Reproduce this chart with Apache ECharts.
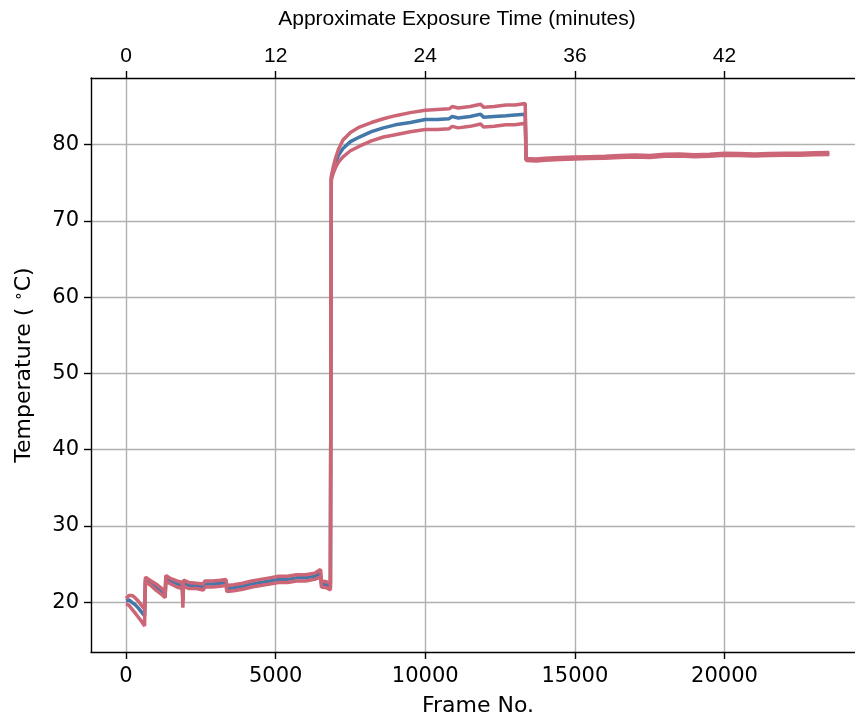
<!DOCTYPE html>
<html>
<head>
<meta charset="utf-8">
<script src="https://cdn.jsdelivr.net/npm/echarts@6/dist/echarts.min.js"></script>
<style>
  html, body { margin: 0; padding: 0; background: #ffffff; }
  #chart { width: 855px; height: 722px; }
</style>
</head>
<body>
<div id="chart"></div>
<script>
// Frame numbers shared by all three temperature traces
const frames = [
  0, 100, 200, 300, 400, 500, 620, 650, 800, 1000, 1200, 1310, 1330, 1500, 1700, 1880, 1900, 1920,
  2100, 2350, 2580, 2640, 2900, 3150, 3340, 3370, 3600, 3900, 4200, 4500, 4800, 5100, 5400, 5700,
  6000, 6300, 6500, 6530, 6700, 6830, 6860, 6920, 7000, 7100, 7250, 7500, 7800, 8200, 8600, 9000,
  9500, 10000, 10400, 10800, 10900, 11100, 11500, 11850, 11950, 12300, 12700, 13000, 13340, 13370,
  13700, 14000, 14500, 15000, 15500, 16000, 16500, 17000, 17500, 18000, 18500, 19000, 19500, 20000,
  20500, 21000, 21500, 22000, 22500, 23000, 23500
];

// Mean temperature (°C)
const meanTemp = [
  20.2, 20.3, 20.0, 19.7, 19.3, 18.8, 18.2, 23.0, 22.6, 22.0, 21.4, 21.0, 23.1, 22.8, 22.4, 22.2, 20.2, 22.5,
  22.2, 22.2, 22.0, 22.4, 22.4, 22.5, 22.6, 21.8, 21.9, 22.1, 22.4, 22.6, 22.8, 23.0, 23.0, 23.2,
  23.2, 23.4, 23.8, 22.4, 22.3, 22.0, 75.6, 76.6, 77.6, 78.6, 79.5, 80.4, 81.0, 81.7, 82.2, 82.6,
  82.9, 83.3, 83.3, 83.4, 83.7, 83.5, 83.7, 84.0, 83.6, 83.7, 83.8, 83.9, 84.0, 78.05,
  78.0, 78.1, 78.2, 78.25, 78.3, 78.35, 78.45, 78.5, 78.45, 78.6, 78.65, 78.55, 78.6, 78.75,
  78.7, 78.65, 78.7, 78.75, 78.75, 78.8, 78.85
];

// Upper bound of the temperature band (°C)
const upperTemp = [
  20.5, 20.9, 20.9, 20.6, 20.2, 19.7, 19.1, 23.3, 22.9, 22.4, 21.8, 21.4, 23.5, 23.1, 22.8, 22.6, 21.0, 22.9,
  22.6, 22.5, 22.4, 22.8, 22.8, 22.9, 23.0, 22.2, 22.3, 22.5, 22.8, 23.0, 23.2, 23.4, 23.4, 23.6,
  23.6, 23.8, 24.3, 22.8, 22.7, 22.4, 75.8, 77.0, 78.2, 79.4, 80.6, 81.6, 82.3, 82.9, 83.4, 83.8,
  84.2, 84.5, 84.6, 84.7, 85.0, 84.8, 85.0, 85.3, 84.9, 85.0, 85.2, 85.2, 85.4, 78.18,
  78.13, 78.23, 78.33, 78.38, 78.43, 78.48, 78.58, 78.63, 78.58, 78.73, 78.78, 78.68, 78.73, 78.88,
  78.83, 78.78, 78.83, 78.88, 78.88, 78.93, 78.98
];

// Lower bound of the temperature band (°C)
const lowerTemp = [
  19.8, 19.6, 19.1, 18.6, 18.1, 17.6, 16.9, 22.7, 22.3, 21.6, 21.0, 20.6, 22.8, 22.4, 22.0, 21.8, 19.3, 22.1,
  21.8, 21.8, 21.6, 22.0, 22.0, 22.1, 22.2, 21.4, 21.5, 21.7, 22.0, 22.2, 22.4, 22.6, 22.6, 22.8,
  22.8, 23.0, 23.3, 22.0, 21.9, 21.6, 75.4, 76.2, 77.0, 77.7, 78.4, 79.2, 79.8, 80.5, 81.0, 81.3,
  81.7, 82.0, 82.0, 82.1, 82.4, 82.2, 82.4, 82.7, 82.3, 82.4, 82.6, 82.6, 82.8, 77.92,
  77.87, 77.97, 78.07, 78.12, 78.17, 78.22, 78.32, 78.37, 78.32, 78.47, 78.52, 78.42, 78.47, 78.62,
  78.57, 78.52, 78.57, 78.62, 78.62, 78.67, 78.72
];

// Axis ticks
const frameTicks = [0, 5000, 10000, 15000, 20000];
const minuteTickLabels = ['0', '12', '24', '36', '42'];
const tempTicks = [20, 30, 40, 50, 60, 70, 80];

const pair = (ys) => frames.map((f, i) => [f, ys[i]]);

const dejavu = 'DejaVu Sans';
const arial = 'Liberation Sans';
const axisBlack = { color: '#000000', width: 1.4 };
const gridStyle = { color: '#b0b0b0', width: 1.4 };
const frameMin = -1170;
const frameMax = 24360;

const chart = echarts.init(document.getElementById('chart'), null, { renderer: 'canvas' });

chart.setOption({
  animation: false,
  backgroundColor: '#ffffff',
  grid: { left: 91, right: 0, top: 78, bottom: 67, containLabel: false },
  xAxis: [
    {
      type: 'value',
      position: 'bottom',
      min: frameMin,
      max: frameMax,
      name: 'Frame No.',
      nameLocation: 'middle',
      nameGap: 43,
      nameTextStyle: { fontFamily: dejavu, fontSize: 22, color: '#000', padding: [0, 0, 0, 10] },
      axisLine: { show: true, onZero: false, lineStyle: axisBlack },
      axisTick: { show: true, length: 7, lineStyle: axisBlack, customValues: frameTicks },
      axisLabel: {
        customValues: frameTicks, margin: 14, fontFamily: dejavu, fontSize: 21, color: '#000',
        formatter: (v) => String(v)
      },
      splitLine: { show: true, lineStyle: gridStyle }
    },
    {
      type: 'value',
      position: 'top',
      min: frameMin,
      max: frameMax,
      name: 'Approximate Exposure Time (minutes)',
      nameLocation: 'middle',
      nameGap: 48,
      nameTextStyle: { fontFamily: arial, fontSize: 21, color: '#000', padding: [0, 32, 0, 0] },
      axisLine: { show: true, onZero: false, lineStyle: axisBlack },
      axisTick: { show: true, length: 7, lineStyle: axisBlack, customValues: frameTicks },
      axisLabel: {
        customValues: frameTicks,
        margin: 11,
        fontFamily: arial,
        fontSize: 21,
        color: '#000',
        formatter: (v) => minuteTickLabels[frameTicks.indexOf(v)]
      },
      splitLine: { show: false }
    }
  ],
  yAxis: {
    type: 'value',
    min: 13.48,
    max: 88.74,
    name: '{t|Temperature ( }{s|\u2218}{t|C)}',
    nameLocation: 'middle',
    nameGap: 55,
    nameRotate: 90,
    nameTextStyle: {
      fontFamily: dejavu, fontSize: 22, color: '#000',
      rich: {
        t: { fontFamily: dejavu, fontSize: 22, color: '#000' },
        s: { fontFamily: dejavu, fontSize: 15, color: '#000', padding: [0, 0, 9, 0] }
      }
    },
    axisLine: { show: true, onZero: false, lineStyle: axisBlack },
    axisTick: { show: true, length: 7, lineStyle: axisBlack, customValues: tempTicks },
    axisLabel: { customValues: tempTicks, margin: 12, fontFamily: dejavu, fontSize: 21, color: '#000' },
    splitLine: { show: true, lineStyle: gridStyle }
  },
  series: [
    {
      name: 'mean', type: 'line', xAxisIndex: 0, data: pair(meanTemp),
      showSymbol: false, lineStyle: { color: '#4477AA', width: 3.5 }, z: 2
    },
    {
      name: 'upper', type: 'line', xAxisIndex: 0, data: pair(upperTemp),
      showSymbol: false, lineStyle: { color: '#CC6677', width: 3.5 }, z: 3
    },
    {
      name: 'lower', type: 'line', xAxisIndex: 0, data: pair(lowerTemp),
      showSymbol: false, lineStyle: { color: '#CC6677', width: 3.5 }, z: 3
    }
  ]
});
</script>
</body>
</html>
